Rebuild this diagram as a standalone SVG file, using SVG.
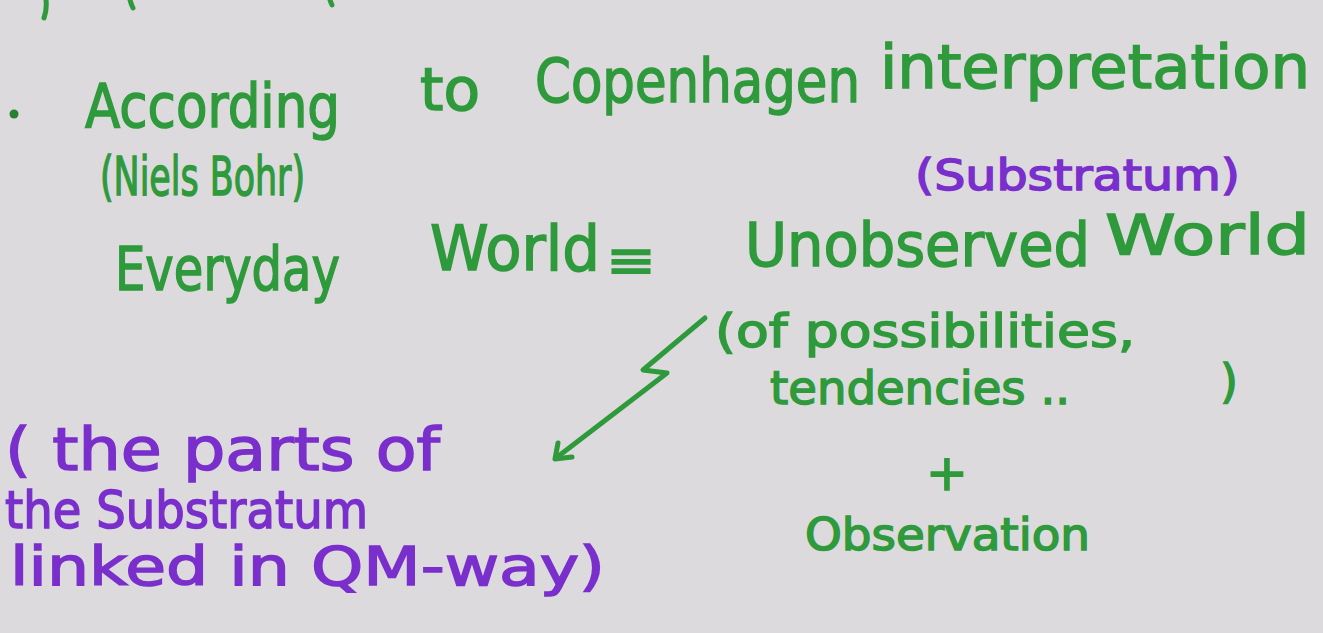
<svg xmlns="http://www.w3.org/2000/svg" width="1323" height="633" viewBox="0 0 1323 633">
<style>
.g{fill:#2e9a3b;stroke:#2e9a3b;stroke-width:1.5;font-family:"DejaVu Sans","Liberation Sans",sans-serif;}
.p{fill:#7a2fcc;stroke:#7a2fcc;stroke-width:1.5;font-family:"DejaVu Sans","Liberation Sans",sans-serif;}
.ln{fill:none;stroke:#2e9a3b;stroke-width:5;stroke-linecap:round;stroke-linejoin:round;}
</style>
<rect width="1323" height="633" fill="#dcdadd"/>
<g id="top-fragments">
<path class="ln" d="M46 0 Q47 10 44 18"/>
<path class="ln" d="M130 0 Q131 4 133 8"/>
<path class="ln" d="M330 0 Q331 3 332 5"/>
</g>
<g id="line1">
<circle cx="14" cy="114" r="4.5" fill="#2a7f33"/>
<text class="g" x="85" y="127" font-size="60" textLength="255" lengthAdjust="spacingAndGlyphs">According</text>
<text class="g" x="420" y="110" font-size="58" textLength="60" lengthAdjust="spacingAndGlyphs">to</text>
<text class="g" x="535" y="102" font-size="60" textLength="325" lengthAdjust="spacingAndGlyphs">Copenhagen</text>
<text class="g" x="880" y="88" font-size="60" textLength="430" lengthAdjust="spacingAndGlyphs">interpretation</text>
</g>
<g id="bohr">
<text class="g" x="100" y="195" font-size="54" textLength="205" lengthAdjust="spacingAndGlyphs">(Niels Bohr)</text>
</g>
<g id="substratum">
<text class="p" x="915" y="190" font-size="42" textLength="325" lengthAdjust="spacingAndGlyphs">(Substratum)</text>
</g>
<g id="everyday">
<text class="g" x="115" y="290" font-size="60" textLength="225" lengthAdjust="spacingAndGlyphs">Everyday</text>
<text class="g" x="430" y="270" font-size="62" textLength="170" lengthAdjust="spacingAndGlyphs">World</text>
<text class="g" x="606" y="278" font-size="52" textLength="50" lengthAdjust="spacingAndGlyphs">≡</text>
</g>
<g id="unobserved">
<text class="g" x="745" y="266" font-size="60" textLength="345" lengthAdjust="spacingAndGlyphs">Unobserved</text>
<text class="g" x="1105" y="254" font-size="56" textLength="205" lengthAdjust="spacingAndGlyphs">World</text>
<text class="g" x="715" y="347" font-size="46" textLength="420" lengthAdjust="spacingAndGlyphs">(of possibilities,</text>
<text class="g" x="770" y="404" font-size="46" textLength="300" lengthAdjust="spacingAndGlyphs">tendencies ..</text>
<text class="g" x="1220" y="397" font-size="46">)</text>
</g>
<g id="observation">
<text class="g" x="926" y="490" font-size="50">+</text>
<text class="g" x="805" y="550" font-size="44" textLength="285" lengthAdjust="spacingAndGlyphs">Observation</text>
</g>
<g id="parts">
<text class="p" x="5" y="470" font-size="58" textLength="435" lengthAdjust="spacingAndGlyphs">( the parts of</text>
<text class="p" x="5" y="528" font-size="52" textLength="363" lengthAdjust="spacingAndGlyphs">the Substratum</text>
<text class="p" x="10" y="585" font-size="54" textLength="595" lengthAdjust="spacingAndGlyphs">linked in QM-way)</text>
</g>
<g id="connectors">
<path class="ln" d="M705 318 L643 370 L667 373 L556 458"/>
<path class="ln" d="M558 443 L555 459 L572 457"/>
</g>
</svg>
